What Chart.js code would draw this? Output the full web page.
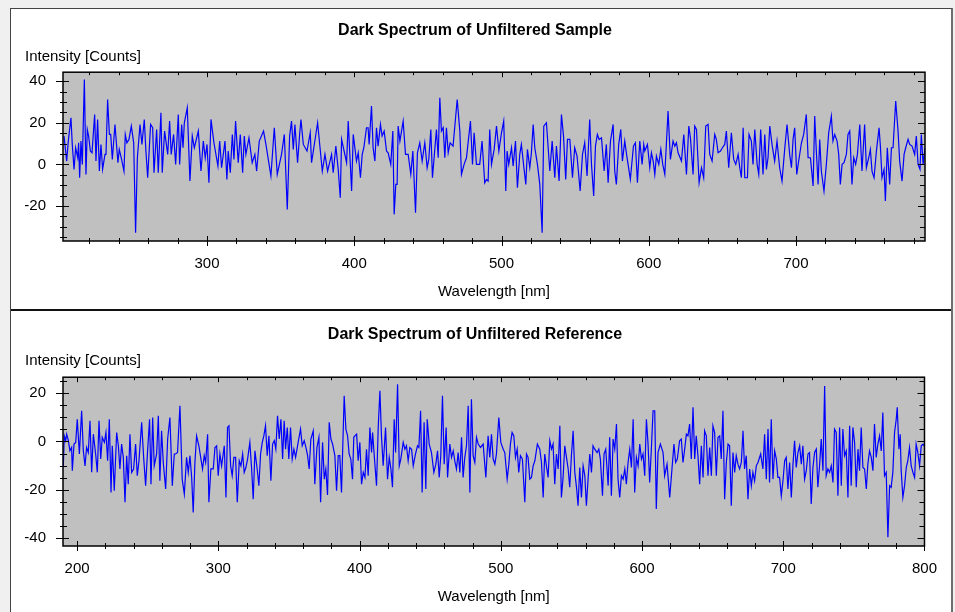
<!DOCTYPE html>
<html>
<head>
<meta charset="utf-8">
<title>Dark Spectrum</title>
<script src="https://cdn.jsdelivr.net/npm/chart.js@4.4.1/dist/chart.umd.min.js"></script>
<style>
  body { margin: 0; background: #f0f0f0; }
  #frame { position: absolute; left: 10px; top: 8px; width: 940px; height: 620px;
           background: #fff; border: 1px solid #444; border-right: 2px solid #6e6e6e; }
  .panel { position: relative; width: 940px; height: 300px; }
  #sep { height: 2px; background: #111; }
</style>
</head>
<body>
<div id="frame">
  <div class="panel"><canvas id="sampleChart" width="940" height="300"></canvas></div>
  <div id="sep"></div>
  <div class="panel"><canvas id="refChart" width="940" height="301"></canvas></div>
</div>
<script>
// Dark spectrum, unfiltered sample (wavelength nm / counts)
const sampleWl = [
  202.9,204.7,205.8,207.6,208.5,209.7,210.8,212.2,212.8,213.5,
  214.4,215.3,216.7,217.8,218.7,219.6,220.8,221.9,223.7,224.6,
  225.7,226.9,228.0,229.1,230.7,231.4,232.5,233.7,234.6,235.7,
  237.5,239.5,240.4,242.0,243.6,244.5,245.6,247.0,248.6,250.2,
  251.5,252.7,254.5,255.8,257.4,258.5,259.7,261.7,263.1,264.0,
  265.8,266.9,268.7,269.6,271.2,273.3,274.6,275.7,277.3,278.7,
  280.5,281.4,282.8,283.7,284.6,286.6,288.4,290.0,291.4,294.1,295.9,
  297.5,298.8,300.0,301.3,302.7,304.7,307.4,308.6,309.9,312.2,
  313.5,314.4,315.8,317.2,318.3,319.4,321.2,322.6,324.2,325.3,
  326.4,328.5,330.7,332.5,333.7,335.5,338.4,340.0,343.4,345.7,
  347.7,350.6,352.5,354.5,356.1,357.4,358.6,359.7,361.5,362.9,
  363.8,365.4,367.9,370.1,371.0,375.1,378.3,380.1,381.9,384.6,
  385.7,387.5,389.1,390.5,391.4,394.8,395.9,398.2,399.3,
  401.5,402.7,404.2,405.4,406.5,408.3,409.4,410.1,411.7,412.8,
  414.0,415.1,416.2,417.8,418.9,420.3,421.9,423.0,424.8,426.2,
  427.1,428.2,429.1,429.8,431.0,433.2,434.8,436.6,438.4,439.8,
  441.6,442.9,444.5,446.1,447.9,449.5,450.6,452.0,453.1,454.7,
  455.8,457.0,458.1,459.2,460.4,461.5,462.6,463.8,465.1,467.1,
  469.9,471.7,472.8,474.6,476.2,478.9,480.3,481.4,483.0,485.2,
  486.8,488.6,489.8,490.9,492.0,493.2,495.0,496.6,498.2,500.0,
  501.5,502.9,503.8,504.9,506.8,507.9,509.5,510.8,512.4,513.5,
  515.1,516.5,517.6,519.2,520.3,521.5,522.6,524.4,526.0,527.6,
  528.7,530.5,532.8,534.4,536.2,537.3,539.1,540.7,542.1,543.6,
  544.8,546.4,548.2,549.7,551.3,553.4,555.0,556.5,558.1,559.9,
  561.1,562.6,563.8,565.1,566.3,567.9,569.7,571.2,572.4,574.0,
  575.8,576.9,578.0,579.6,581.0,582.1,583.7,585.1,587.5,589.6,
  590.9,592.3,593.9,595.5,596.6,
  597.3,599.1,600.7,601.8,603.0,604.1,605.2,606.8,608.2,609.5,
  610.9,613.1,614.7,616.5,617.7,618.8,619.9,622.2,623.8,625.6,
  627.2,628.3,630.1,631.2,632.4,634.2,635.8,637.3,638.7,640.3,
  641.4,643.0,644.8,645.9,647.1,648.7,650.0,651.6,652.7,654.3,
  656.1,657.7,659.1,660.7,661.8,662.9,664.1,665.2,667.0,668.1,
  669.7,670.8,672.0,673.6,674.7,676.0,677.6,678.8,679.9,681.0,
  682.2,683.7,685.5,687.1,688.9,690.5,692.3,693.9,695.7,696.9,
  698.0,699.1,700.5,701.8,703.7,705.2,707.0,708.2,709.8,711.6,
  712.7,713.8,715.0,716.1,717.2,719.0,720.6,722.2,724.0,725.1,
  726.3,727.9,729.0,730.1,731.3,732.6,734.2,735.3,736.5,738.0,
  739.2,740.5,741.7,743.3,744.8,746.6,747.8,749.4,750.5,751.6,
  753.0,754.6,756.4,757.3,758.4,759.8,760.7,762.0,763.6,764.8,
  765.9,767.7,769.3,770.4,772.0,773.4,774.5,776.1,777.2,778.8,
  780.6,781.7,782.9,784.2,785.1,786.3,787.6
];
const sampleCounts = [
  13.6,1.6,11.2,22.4,9.6,-2.4,8.0,3.2,10.4,-6.4,
  11.2,0,40.8,-4.8,16.8,13.6,6.4,5.6,24.0,1.6,
  21.6,-3.2,9.6,-2.4,4.8,4.8,31.2,14.4,14.4,2.4,
  19.2,0.8,7.2,2.4,-3.2,14.4,10.4,12.0,18.4,10.4,
  -32.8,3.2,19.2,9.6,21.6,6.4,-6.4,19.2,17.6,-4.0,
  16.8,-4.0,24.8,-4.0,16.0,4.8,20.8,4.8,14.4,0,
  24.0,0,19.2,8.0,20.0,27.2,-8.0,13.6,8.0,16.0,-3.2,
  11.2,3.2,9.6,-8.8,21.6,10.4,-0.8,11.2,-1.6,11.2,
  -7.2,6.4,-4.0,14.4,2.4,20.8,0.8,14.4,-4.0,13.6,
  4.8,12.8,0.8,4.8,-3.2,11.2,16.0,9.6,-5.6,17.6,
  -4.8,4.8,14.4,-21.6,13.6,20.8,7.2,19.2,0.8,14.4,
  21.6,9.6,6.4,15.2,0.8,20.0,-3.2,4.8,-3.2,4.8,
  -4.0,8.8,-2.4,-16.0,12.0,0.8,20.8,-12.8,14.4,
  1.6,5.6,-6.4,4.8,8.0,17.6,17.6,9.6,28.0,8.0,
  1.6,17.6,8.8,19.2,13.6,16.0,6.4,5.6,0,16.0,
  -24.0,-9.6,-9.6,18.4,11.2,20.8,4.8,4.8,-4.8,6.4,
  -23.2,5.6,10.4,1.6,10.4,-1.6,2.4,16.8,-6.4,7.2,
  16.8,3.2,32.0,16.0,17.6,3.2,17.6,5.6,10.4,8.8,
  31.2,16.0,-4.8,0,3.2,20.8,0,15.2,0,0,
  11.2,-8.8,-7.2,-8.0,16.8,0,7.2,18.4,6.4,15.2,
  20.8,-12.8,6.4,0,8.0,-0.8,11.2,-11.2,4.8,9.6,
  -0.8,-9.6,7.2,-1.6,5.6,19.2,8.0,0,-9.6,-32.8,
  18.4,20.0,-3.2,11.2,-6.4,8.8,-8.0,24.0,13.6,-7.2,
  12.0,12.0,-6.4,8.0,4.0,-12.8,4.8,10.4,-5.6,21.6,
  0,-15.2,8.8,14.4,12.0,12.8,-3.2,9.6,-8.8,11.2,
  19.2,-3.2,-9.6,9.6,16.8,1.6,11.2,4.0,-7.2,8.8,
  10.4,-8.8,11.2,0,9.6,
  6.4,9.6,-1.6,5.6,1.6,-4.8,4.0,0,7.2,0,
  -4.8,25.6,2.4,11.2,8.8,10.4,5.6,1.6,14.4,-4.8,
  18.4,12.8,-4.8,18.4,16.8,-8.8,-1.6,-6.4,18.4,19.2,
  4.8,1.6,14.4,12.0,5.6,6.4,8.0,9.6,16.0,-1.6,
  15.2,2.4,0,4.8,-1.6,-6.4,17.6,-6.4,-6.4,14.4,
  11.2,0,16.8,0,-4.8,16.8,-4.8,14.4,-2.4,3.2,
  18.4,9.6,1.6,11.2,-1.6,-8.0,7.2,19.2,4.8,-1.6,
  12.0,17.6,-4.8,1.6,10.4,14.4,24.0,3.2,3.2,-10.4,
  23.2,6.4,-9.6,12.0,-3.2,-12.8,0,15.2,23.2,11.2,
  14.4,11.2,4.8,-9.6,0,0.8,4.8,14.4,16.0,-9.6,
  3.2,0,4.8,19.2,-3.2,19.2,-1.6,3.2,7.2,-3.2,
  -6.4,6.4,17.6,8.8,-6.4,-2.4,-17.6,8.0,-9.6,8.0,
  8.0,30.4,16.0,1.6,-8.0,4.8,8.0,12.0,9.6,8.8,
  4.8,13.6,0,-2.4,14.4,0,8.0
];

// Dark spectrum, unfiltered reference
const refWl = [
  190.2,190.9,191.9,192.6,193.8,194.9,196.1,196.6,197.8,199.0,
  200.1,201.6,203.2,204.4,205.6,206.7,207.9,209.1,210.3,211.5,
  213.1,214.3,215.5,216.7,217.8,219.3,220.4,221.6,222.8,224.0,
  224.9,226.3,228.0,229.2,230.3,231.5,232.7,233.9,235.1,236.2,
  237.4,238.6,240.0,241.4,242.6,243.8,245.7,247.1,248.5,249.9,
  251.3,252.3,253.5,254.6,256.3,257.5,258.6,259.8,261.0,262.7,
  264.1,265.7,267.4,268.8,269.7,271.1,272.8,274.4,275.9,277.5,
  278.7,279.9,281.1,282.2,283.4,284.6,286.2,287.7,288.8,290.0,
  291.0,292.4,293.3,294.7,296.4,297.6,298.8,299.9,301.1,302.3,
  304.2,305.4,306.5,307.5,308.7,309.8,311.0,312.2,313.4,314.8,
  316.0,317.2,318.3,319.5,320.7,322.3,323.5,324.7,325.9,327.5,
  328.7,329.9,331.1,332.2,333.4,334.6,335.8,337.2,338.4,339.6,
  340.7,341.9,343.1,344.3,345.5,346.6,347.6,348.8,349.9,351.1,
  352.3,353.5,354.7,356.5,358.2,359.4,360.8,362.0,363.2,364.3,
  365.5,367.2,368.3,369.8,371.2,372.4,373.8,375.0,376.1,377.3,
  378.5,379.7,380.9,382.5,383.7,384.9,386.0,387.2,389.1,390.3,
  391.5,392.6,393.8,395.0,395.9,
  396.7,397.9,399.0,400.2,401.4,402.6,403.8,404.9,406.1,407.3,
  408.5,409.2,410.4,412.0,413.2,414.4,415.5,416.7,418.4,419.8,
  421.0,422.2,423.3,424.5,425.5,426.9,428.1,429.2,430.9,432.1,
  433.2,434.4,435.6,436.8,438.0,439.6,441.0,442.0,443.2,444.3,
  445.7,446.9,447.9,449.3,450.9,452.6,454.0,455.2,456.4,457.5,
  458.7,459.9,461.3,462.3,463.9,465.1,466.3,467.4,468.6,469.8,
  471.0,472.2,473.3,474.5,475.7,476.9,478.1,479.2,480.4,481.6,
  482.8,484.0,485.6,487.5,489.4,491.0,492.2,493.4,494.6,495.8,
  496.9,498.6,500.0,501.7,502.8,504.5,505.7,506.8,508.0,509.2,
  510.4,511.6,512.7,513.9,515.3,517.0,518.2,519.3,520.5,521.7,
  522.9,524.1,525.9,527.6,528.8,530.0,531.1,532.3,533.5,534.7,
  535.9,537.0,538.2,539.4,540.6,541.8,542.9,544.1,545.3,546.5,
  547.7,548.8,550.0,551.2,552.4,553.6,554.7,555.9,557.1,558.3,
  559.5,560.6,561.8,563.0,564.2,565.3,566.5,568.2,569.4,570.5,
  572.0,573.1,574.3,576.0,577.1,578.3,579.5,580.7,581.9,583.0,
  584.2,585.4,586.6,587.8,588.9,590.1,591.3,592.5,593.7,594.8,
  596.0,597.2,598.4,599.6,600.7,
  601.9,603.1,604.2,605.4,606.6,607.8,609.0,610.1,611.3,613.0,
  614.9,616.0,617.7,619.6,621.2,622.6,623.8,625.0,626.6,627.8,
  629.0,630.2,631.4,632.5,633.7,634.9,636.1,637.3,638.4,639.6,
  640.8,642.0,643.2,644.3,645.5,646.7,647.9,649.1,650.2,651.4,
  652.6,653.8,655.0,656.1,657.3,658.5,659.7,660.9,662.0,663.2,
  664.4,665.6,666.7,667.9,669.1,670.3,671.5,672.6,673.8,675.0,
  676.2,677.4,678.5,679.7,680.9,682.1,684.0,685.6,686.8,688.0,
  689.2,690.3,691.5,692.7,693.9,695.1,696.2,697.4,698.6,699.8,
  701.0,702.1,703.3,704.5,705.7,706.9,708.0,709.2,710.4,711.6,
  712.8,713.9,715.1,716.3,717.5,718.6,719.8,721.0,722.2,723.4,
  724.5,725.7,726.9,728.1,729.3,730.4,731.6,732.8,734.0,735.2,
  736.3,737.5,738.7,739.9,741.1,742.2,743.4,744.6,745.8,747.0,
  748.1,749.3,750.5,751.7,752.9,754.0,755.2,756.4,757.6,758.8,
  759.9,761.1,762.3,763.5,764.6,765.8,767.0,768.2,769.4,770.5,
  771.7,772.9,774.1,775.3,776.4,777.6,778.8,780.0,780.7,781.9,
  782.8,783.5,784.7,785.9,787.1,788.2,789.4,790.6,791.8,793.0,
  794.1,795.3,796.5,797.7,798.9,800.0
];
const refCounts = [
  -10.8,2.3,0.3,3.0,0.3,-3.9,-2.5,-12.1,-1.1,-0.4,
  9.2,-5.2,12.7,-3.9,-10.1,-2.5,-4.6,8.6,-12.8,3.0,
  -5.2,-12.8,8.6,-7.3,1.7,-0.4,3.7,-8.0,9.2,-21.1,
  -1.8,-20.4,3.7,-1.8,-11.4,-1.1,-6.6,-25.2,-5.9,-17.7,
  3.0,-12.8,-11.4,-1.1,-14.2,-8.0,7.9,-6.6,-18.3,-3.9,
  9.2,-17.7,9.9,-10.1,-5.2,10.6,-16.3,4.4,-8.7,-19.7,
  1.0,9.9,-18.3,-5.2,-5.2,-4.6,14.8,-15.6,-21.8,-6.6,
  -12.8,-5.9,-14.9,-29.4,-8.7,2.3,-1.8,-7.3,-11.4,-5.9,
  -8.7,3.0,-25.2,-11.4,-11.4,-2.5,-1.8,-14.2,-5.2,-10.1,
  -1.8,-23.2,5.8,6.5,-10.1,-14.2,-6.6,-6.6,-25.2,-8.0,
  -10.1,-5.2,-12.8,-10.8,-7.3,-0.4,-10.8,-23.9,-3.9,-11.4,
  -18.3,-5.2,-0.4,2.3,6.5,-5.9,2.3,-16.3,-1.1,0.3,
  -3.2,10.6,1.0,9.2,-7.3,8.6,-3.2,5.8,-7.3,5.8,
  -7.3,-3.2,-6.6,-0.4,5.1,-1.8,0.3,-2.5,-5.9,-11.4,
  1.0,4.4,-17.7,-2.5,1.7,-25.2,-0.4,-15.6,-11.4,-22.2,
  7.9,1.0,-1.1,-5.9,-20.4,-5.9,-5.9,-21.1,18.9,5.1,
  2.3,-5.2,-7.3,-15.6,1.7,
  2.3,3.0,-8.0,-0.4,-17.7,-12.8,-14.9,-3.2,-14.2,5.8,
  -4.6,3.7,-5.9,-18.3,5.8,21.0,2.3,-10.1,5.8,-15.6,
  -6.6,-11.4,-19.0,9.2,-4.6,23.7,-10.1,-7.3,-0.4,-3.2,
  -1.8,-8.0,-2.5,-3.2,-10.1,-5.2,-1.8,-2.5,12.7,-21.1,
  7.9,-19.7,9.2,-1.1,-4.6,-12.8,-9.4,-3.9,-14.9,-5.9,
  18.9,-9.4,5.8,-14.9,-1.1,-6.6,-3.9,-8.0,-11.4,-4.6,
  -12.8,1.7,-14.9,-6.6,-1.8,14.8,-21.1,17.5,-5.9,-8.7,
  1.7,-1.1,-2.5,-1.1,-14.9,2.3,-6.6,3.0,-7.3,-9.4,
  -5.2,9.9,-0.4,-3.2,-4.6,-15.6,-9.4,-1.1,3.7,2.3,
  -6.6,-3.2,-12.8,-5.9,-7.3,-25.2,-5.2,-6.6,-15.6,-14.9,
  -10.1,-8.0,-1.1,-3.2,-8.7,-23.2,-5.2,-10.1,-14.9,0.3,
  -3.2,-1.1,-17.7,-5.2,-11.4,6.5,-23.2,-14.9,-1.8,-6.6,
  -11.4,-19.0,-5.9,4.4,-12.8,-19.0,-26.6,-10.8,-23.2,-10.1,
  -14.2,-26.6,-15.6,-5.2,-12.8,-1.8,-3.2,-4.6,-3.2,-7.3,
  -22.5,-5.2,-3.2,-18.3,1.7,-22.5,1.0,-3.2,7.2,-15.6,
  -23.2,-14.2,-15.6,-11.4,-17.7,-8.7,-3.2,-10.8,9.2,-21.1,
  -6.6,-10.1,-1.1,-7.3,-5.2,
  -14.2,9.2,-0.4,-17.0,-3.2,12.7,12.7,-28.0,-4.6,-1.1,
  -4.6,-14.2,-9.4,-23.2,-11.4,-1.1,-8.7,-7.3,0.3,1.0,
  -8.7,-3.2,3.0,2.3,7.2,-7.3,14.1,-7.3,2.3,-5.9,
  -17.7,-1.8,-14.9,4.4,2.3,-14.2,-2.5,-14.2,6.5,3.7,
  -14.2,1.7,2.3,-7.3,12.7,-23.9,-8.7,-1.1,-1.8,-26.6,
  -4.6,-12.8,-5.9,-9.4,-11.4,-8.7,4.4,-11.4,-5.9,-23.9,
  -11.4,-18.3,-12.8,-16.3,-10.1,-8.7,-5.2,-11.4,3.0,-15.6,
  5.1,-17.0,9.2,-15.6,-3.9,-7.3,-14.9,-14.9,-22.5,-16.3,
  -8.0,-6.6,-19.7,-8.7,-23.2,-9.4,0.3,-10.8,-4.6,-1.8,
  -9.4,-1.8,-15.6,-12.1,-5.2,-4.6,-25.9,-10.8,-4.6,-3.2,
  -19.0,-10.1,1.0,-12.1,23.0,-14.2,-11.4,-12.8,-10.1,-17.0,
  5.1,3.7,-22.5,5.8,-18.3,5.1,-5.9,-3.9,-23.2,6.5,
  -18.3,5.8,-0.4,-19.0,-3.2,-12.1,5.8,-10.8,-11.4,-19.7,
  -9.4,-3.9,-6.6,-12.1,7.2,-6.6,-1.1,2.3,-3.9,12.0,
  -14.2,-12.8,-39.7,-18.3,-19.0,-12.8,3.7,9.2,14.1,-3.2,
  3.0,-12.1,-23.2,-18.3,-10.8,-8.0,-2.5,-10.1,-12.8,-14.9,
  -1.1,-4.6,-10.1,-1.8,-1.1,-2.0
];

const sampleXTicks = [300, 400, 500, 600, 700];
const sampleYTicks = [-20, 0, 20, 40];
const refXTicks = [200, 300, 400, 500, 600, 700, 800];
const refYTicks = [-40, -20, 0, 20];

const FONT = 'Liberation Sans, Arial, sans-serif';

// grey plot area, black frame and the minor/major tick marks on all four sides
const frameTicks = {
  id: 'frameTicks',
  beforeDraw(chart) {
    const {ctx, chartArea: a} = chart;
    ctx.save();
    ctx.fillStyle = '#c0c0c0';
    ctx.fillRect(a.left, a.top, a.right - a.left, a.bottom - a.top);
    ctx.restore();
  },
  afterDraw(chart, args, opts) {
    const {ctx, chartArea: a, scales: {x, y}} = chart;
    ctx.save();
    ctx.strokeStyle = '#000';
    ctx.lineWidth = 1;
    ctx.beginPath();
    for (let v = Math.ceil(x.min / opts.xMinor) * opts.xMinor; v <= x.max; v += opts.xMinor) {
      const px = Math.round(x.getPixelForValue(v)) + 0.5;
      const major = v % opts.xMajor === 0;
      ctx.moveTo(px, a.bottom - (major ? 5 : 3));
      ctx.lineTo(px, a.bottom + (major ? 5 : 3));
      ctx.moveTo(px, a.top);
      ctx.lineTo(px, a.top + (major ? 5 : 3));
    }
    for (let v = Math.ceil(y.min / opts.yMinor) * opts.yMinor; v <= y.max; v += opts.yMinor) {
      const py = Math.round(y.getPixelForValue(v)) + 0.5;
      const major = v % opts.yMajor === 0;
      ctx.moveTo(a.left - (major ? 7 : 3), py);
      ctx.lineTo(a.left + (major ? 6 : 4), py);
      ctx.moveTo(a.right, py);
      ctx.lineTo(a.right - (major ? 7 : 5), py);
    }
    ctx.stroke();
    ctx.lineWidth = 1.5;
    ctx.strokeRect(a.left, a.top, a.right - a.left, a.bottom - a.top);
    ctx.restore();
  }
};

function makePanel(id, p) {
  const points = p.wl.map((w, i) => ({x: w, y: p.counts[i]}));
  return new Chart(document.getElementById(id), {
    type: 'line',
    data: {
      datasets: [{
        data: points,
        borderColor: '#0000ff',
        borderWidth: 1.2,
        pointRadius: 0,
        tension: 0
      }]
    },
    options: {
      responsive: false,
      animation: false,
      layout: {padding: {left: 14, right: 26, top: 0, bottom: 0}},
      plugins: {
        legend: {display: false},
        tooltip: {enabled: false},
        title: {
          display: true, text: p.title, color: '#000',
          font: {family: FONT, size: 16, weight: 'bold'},
          padding: {top: p.titleTop, bottom: 8}
        },
        subtitle: {
          display: true, text: 'Intensity [Counts]', align: 'start', color: '#000',
          font: {family: FONT, size: 15, weight: 'normal'},
          padding: {top: 0, bottom: p.subBottom}
        },
        frameTicks: {xMinor: 20, xMajor: 100, yMinor: 5, yMajor: 20}
      },
      scales: {
        x: {
          type: 'linear', min: p.xMin, max: p.xMax,
          afterBuildTicks: s => { s.ticks = p.xTicks.map(v => ({value: v})); },
          afterFit: s => { s.height = p.xHeight; },
          grid: {display: false, drawTicks: false},
          border: {display: false},
          ticks: {color: '#000', padding: 14, font: {family: FONT, size: 15}},
          title: {display: true, text: 'Wavelength [nm]', color: '#000',
                  font: {family: FONT, size: 15}, padding: {top: 0, bottom: p.xTitleBottom}}
        },
        y: {
          min: p.yMin, max: p.yMax,
          afterBuildTicks: s => { s.ticks = p.yTicks.map(v => ({value: v})); },
          afterFit: s => { s.width = 38; },
          grid: {display: false, drawTicks: false},
          border: {display: false},
          ticks: {color: '#000', padding: 17, font: {family: FONT, size: 15}}
        }
      }
    },
    plugins: [frameTicks]
  });
}

makePanel('sampleChart', {
  title: 'Dark Spectrum of Unfiltered Sample',
  wl: sampleWl, counts: sampleCounts,
  xMin: 202.2, xMax: 787.6, yMin: -36.8, yMax: 44.3,
  xTicks: sampleXTicks, yTicks: sampleYTicks,
  titleTop: 12, subBottom: 6, xHeight: 68, xTitleBottom: 8
});

makePanel('refChart', {
  title: 'Dark Spectrum of Unfiltered Reference',
  wl: refWl, counts: refCounts,
  xMin: 190, xMax: 800, yMin: -43.3, yMax: 26.6,
  xTicks: refXTicks, yTicks: refYTicks,
  titleTop: 14, subBottom: 7, xHeight: 66, xTitleBottom: 6
});
</script>
</body>
</html>
